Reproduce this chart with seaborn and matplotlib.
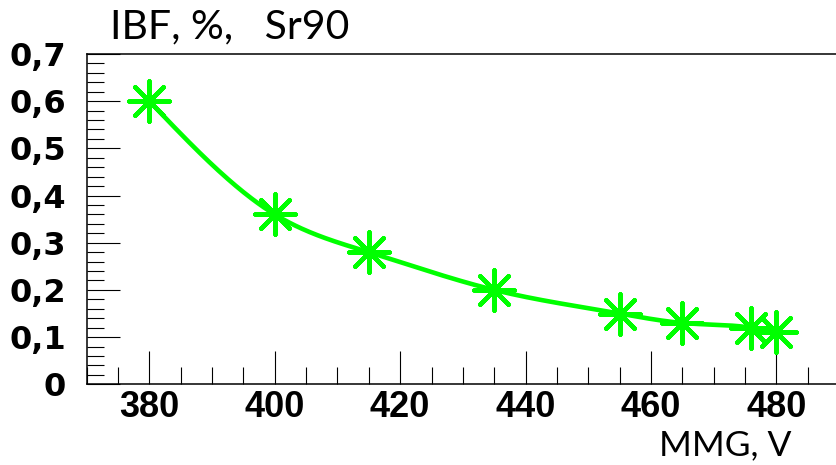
import numpy as np
import pandas as pd
import matplotlib
matplotlib.use("Agg")
import matplotlib.pyplot as plt
from matplotlib.ticker import MultipleLocator, FixedLocator
import seaborn as sns

# MMG voltage (V) and ion back-flow (%) measured with the Sr90 source
mmg_voltage = [380, 400, 415, 435, 455, 465, 476, 480]
ibf_percent = [0.60, 0.36, 0.28, 0.20, 0.15, 0.13, 0.12, 0.11]

x_ticks = [380, 400, 420, 440, 460, 480]
y_ticks = [0.0, 0.1, 0.2, 0.3, 0.4, 0.5, 0.6, 0.7]
y_tick_labels = ["0", "0,1", "0,2", "0,3", "0,4", "0,5", "0,6", "0,7"]

title_text = "IBF, %,   Sr90"
x_label = "MMG, V"

GREEN = "#00ff00"


def natural_spline(x, y, n=400):
    """Smooth curve through the measured points (natural cubic spline)."""
    x = np.asarray(x, float)
    y = np.asarray(y, float)
    k = len(x)
    h = np.diff(x)
    A = np.zeros((k, k))
    b = np.zeros(k)
    A[0, 0] = A[-1, -1] = 1.0
    for i in range(1, k - 1):
        A[i, i - 1] = h[i - 1]
        A[i, i] = 2 * (h[i - 1] + h[i])
        A[i, i + 1] = h[i]
        b[i] = 3 * ((y[i + 1] - y[i]) / h[i] - (y[i] - y[i - 1]) / h[i - 1])
    c = np.linalg.solve(A, b)
    bb = (np.diff(y) / h) - h * (2 * c[:-1] + c[1:]) / 3
    d = np.diff(c) / (3 * h)
    xs = np.linspace(x[0], x[-1], n)
    idx = np.clip(np.searchsorted(x, xs, side="right") - 1, 0, k - 2)
    dx = xs - x[idx]
    ys = y[idx] + bb[idx] * dx + c[idx] * dx ** 2 + d[idx] * dx ** 3
    return xs, ys


sns.set_style("ticks")
plt.rcParams["font.family"] = ["DejaVu Sans"]

fig = plt.figure(figsize=(8.37, 4.65), dpi=100)
ax = fig.add_axes([86.7 / 837, 80.7 / 465, (839 - 86.7) / 837, (384.3 - 54) / 465])

xs, ys = natural_spline(mmg_voltage, ibf_percent)
curve = pd.DataFrame({"MMG": xs, "IBF": ys})
points = pd.DataFrame({"MMG": mmg_voltage, "IBF": ibf_percent})

sns.lineplot(data=curve, x="MMG", y="IBF", ax=ax, color=GREEN, lw=3.3,
             sort=False, estimator=None, solid_capstyle="butt")
sns.scatterplot(data=points, x="MMG", y="IBF", ax=ax, marker=(8, 2, 0),
                s=29.0 ** 2, color=GREEN, edgecolor=GREEN, linewidth=3.2,
                zorder=5)

ax.set_xlim(370, 490)
ax.set_ylim(0, 0.7)
ax.set_xlabel("")
ax.set_ylabel("")

ax.xaxis.set_major_locator(FixedLocator(x_ticks))
ax.xaxis.set_minor_locator(MultipleLocator(5))
ax.yaxis.set_major_locator(FixedLocator(y_ticks))
ax.yaxis.set_minor_locator(MultipleLocator(0.02))
ax.set_yticklabels(y_tick_labels)

ax.tick_params(axis="both", which="both", direction="in", color="black",
               labelcolor="black", top=False, right=False)
ax.tick_params(axis="both", which="major", length=23.8, width=0.8)
ax.tick_params(axis="both", which="minor", length=12, width=0.8)
ax.tick_params(axis="x", which="major", pad=4)
ax.tick_params(axis="y", which="major", pad=15)

for lab in ax.get_xticklabels():
    lab.set_fontfamily("Liberation Sans")
    lab.set_fontweight("bold")
    lab.set_fontsize(26)
for lab in ax.get_yticklabels():
    lab.set_fontfamily("DejaVu Sans")
    lab.set_fontweight("bold")
    lab.set_fontsize(23)

for side in ("left", "top", "bottom"):
    ax.spines[side].set_linewidth(1.1)
    ax.spines[side].set_color("black")
ax.spines["right"].set_visible(False)

fig.text(110 / 837, 1 - 38.3 / 465, title_text, family="Lato", fontsize=29.5,
         ha="left", va="baseline", color="black")
fig.text(792 / 837, 1 - 455 / 465, x_label, family="Lato", fontsize=25.5,
         ha="right", va="baseline", color="black")

fig.savefig("out.png", dpi=100)
